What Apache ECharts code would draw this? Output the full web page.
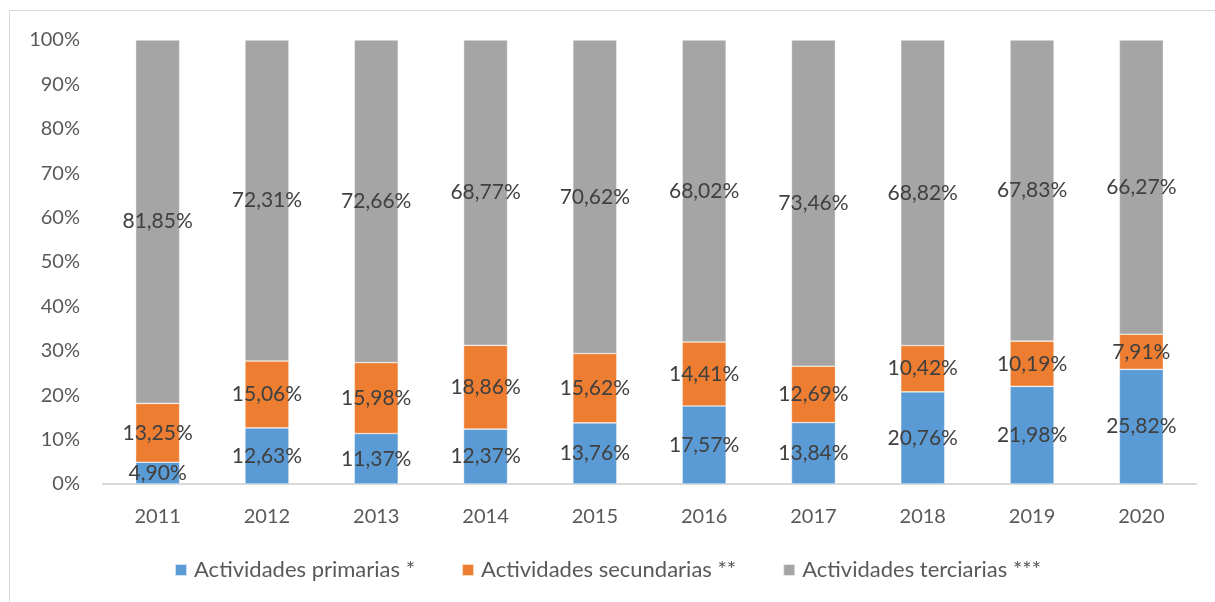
<!DOCTYPE html>
<html>
<head>
<meta charset="utf-8">
<script src="https://cdn.jsdelivr.net/npm/echarts@6/dist/echarts.min.js"></script>
<style>
  html, body { margin: 0; padding: 0; background: #fff; }
  .frame {
    position: absolute;
    left: 9px;
    top: 10px;
    width: 1300px;
    height: 700px;
    border-left: 1px solid #d9d9d9;
    border-top: 1px solid #d9d9d9;
  }
  #chart { position: absolute; left: 0; top: 0; width: 1215px; height: 602px; }
</style>
</head>
<body>
<div class="frame"></div>
<div id="chart"></div>
<script>
  const years = ['2011', '2012', '2013', '2014', '2015', '2016', '2017', '2018', '2019', '2020']
  const primarias = [4.90, 12.63, 11.37, 12.37, 13.76, 17.57, 13.84, 20.76, 21.98, 25.82]
  const secundarias = [13.25, 15.06, 15.98, 18.86, 15.62, 14.41, 12.69, 10.42, 10.19, 7.91]
  const terciarias = [81.85, 72.31, 72.66, 68.77, 70.62, 68.02, 73.46, 68.82, 67.83, 66.27]
  const yTicks = [0, 10, 20, 30, 40, 50, 60, 70, 80, 90, 100]

  const font = 'Lato, "Open Sans", sans-serif'
  const fmt = p => p.value.toFixed(2).replace('.', ',') + '%'

  function serie(name, data, color) {
    return {
      name: name,
      type: 'bar',
      stack: 'total',
      barWidth: 44,
      data: data,
      itemStyle: { color: color, borderColor: 'rgba(255,255,255,0.7)', borderWidth: 0.6 },
      label: {
        show: true,
        position: 'inside',
        formatter: fmt,
        color: '#404040',
        fontFamily: font,
        fontSize: 21
      }
    }
  }

  const chart = echarts.init(document.getElementById('chart'), null, { renderer: 'canvas' })
  chart.setOption({
    animation: false,
    textStyle: { fontFamily: font },
    grid: { left: 103, right: 19, top: 40, bottom: 118 },
    legend: {
      top: 554,
      left: 'center',
      icon: 'rect',
      itemWidth: 12,
      itemHeight: 12,
      itemGap: 46,
      textStyle: { color: '#595959', fontSize: 22, fontFamily: font, padding: [0, 0, 0, 2] },
      data: ['Actividades primarias *', 'Actividades secundarias **', 'Actividades terciarias ***']
    },
    xAxis: {
      type: 'category',
      data: years,
      axisLine: { lineStyle: { color: '#d9d9d9', width: 2 } },
      axisTick: { show: false },
      axisLabel: { color: '#595959', fontSize: 20, margin: 23, fontFamily: font }
    },
    yAxis: {
      type: 'value',
      min: yTicks[0],
      max: yTicks[yTicks.length - 1],
      interval: 10,
      axisLine: { show: false },
      axisTick: { show: false },
      splitLine: { show: false },
      axisLabel: { color: '#595959', fontSize: 20, margin: 23, fontFamily: font, formatter: v => v + '%' }
    },
    series: [
      serie('Actividades primarias *', primarias, '#5b9bd5'),
      serie('Actividades secundarias **', secundarias, '#ed7d31'),
      serie('Actividades terciarias ***', terciarias, '#a5a5a5')
    ]
  })
</script>
</body>
</html>
